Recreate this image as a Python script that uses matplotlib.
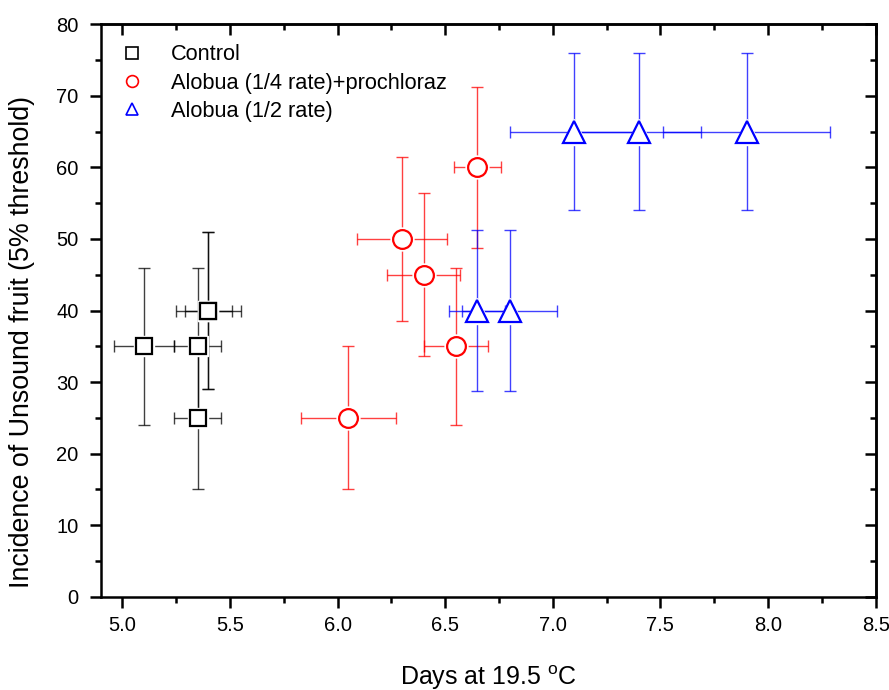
import matplotlib
matplotlib.use('Agg')
import matplotlib.pyplot as plt
from matplotlib.lines import Line2D
from matplotlib.ticker import MultipleLocator, FormatStrFormatter

plt.rcParams['font.family'] = ['Liberation Sans', 'DejaVu Sans']
plt.rcParams['mathtext.fontset'] = 'custom'
plt.rcParams['mathtext.rm'] = 'Liberation Sans'
plt.rcParams['mathtext.it'] = 'Liberation Sans'

# data
control_x = [5.1, 5.35, 5.35, 5.4, 5.4]
control_y = [35, 35, 25, 40, 40]
control_xerr = [0.14, 0.11, 0.11, 0.15, 0.11]
control_yerr = [11, 11, 10, 11, 11]

mix_x = [6.05, 6.3, 6.4, 6.55, 6.65]
mix_y = [25, 50, 45, 35, 60]
mix_xerr = [0.22, 0.21, 0.17, 0.15, 0.11]
mix_yerr = [10, 11.5, 11.4, 11, 11.2]

half_x = [6.65, 6.8, 7.1, 7.4, 7.9]
half_y = [40, 40, 65, 65, 65]
half_xerr = [0.13, 0.22, 0.30, 0.29, 0.39]
half_yerr = [11.2, 11.2, 11, 11, 11]

labels = ['Control', 'Alobua (1/4 rate)+prochloraz', 'Alobua (1/2 rate)']

series = [
    (control_x, control_y, control_xerr, control_yerr, 's', 11.5, 'black'),
    (mix_x, mix_y, mix_xerr, mix_yerr, 'o', 13.5, 'red'),
    (half_x, half_y, half_xerr, half_yerr, '^', 16, 'blue'),
]

fig = plt.figure(figsize=(8.89, 6.9), dpi=100)
ax = fig.add_axes([0.1133, 0.1352, 0.8717, 0.8296])

for x, y, xe, ye, m, ms, c in series:
    ax.errorbar(x, y, xerr=xe, yerr=ye, fmt='none', ecolor=c, elinewidth=1.0,
                capsize=4.5, capthick=1.0, alpha=0.75, zorder=2)
for x, y, xe, ye, m, ms, c in series:
    # white halo so the bars stop short of the marker
    ax.plot(x, y, linestyle='none', marker=m, markersize=ms + 3,
            markerfacecolor='white', markeredgecolor='white', zorder=3)
    ax.plot(x, y, linestyle='none', marker=m, markersize=ms,
            markerfacecolor='white', markeredgecolor=c, markeredgewidth=1.6, zorder=4)

ax.set_xlim(4.9, 8.5)
ax.set_ylim(0, 80)
ax.xaxis.set_major_locator(MultipleLocator(0.5))
ax.xaxis.set_minor_locator(MultipleLocator(0.25))
ax.yaxis.set_major_locator(MultipleLocator(10))
ax.yaxis.set_minor_locator(MultipleLocator(5))
ax.xaxis.set_major_formatter(FormatStrFormatter('%.1f'))

for side in ['left', 'bottom', 'top', 'right']:
    ax.spines[side].set_linewidth(1.8)

ax.tick_params(which='major', direction='out', length=8, width=1.8,
               labelsize=14.5, pad=6)
ax.tick_params(axis='y', which='major', pad=8)
ax.tick_params(which='minor', direction='out', length=4, width=1.8)

# inward ticks on top and right, no labels
top = ax.secondary_xaxis('top')
right = ax.secondary_yaxis('right')
top.xaxis.set_major_locator(MultipleLocator(0.5))
top.xaxis.set_minor_locator(MultipleLocator(0.25))
right.yaxis.set_major_locator(MultipleLocator(10))
right.yaxis.set_minor_locator(MultipleLocator(5))
for sec in (top, right):
    sec.tick_params(which='major', direction='in', length=8, width=1.8,
                    labeltop=False, labelright=False)
    sec.tick_params(which='minor', direction='in', length=4, width=1.8)
    for sp in sec.spines.values():
        sp.set_linewidth(1.8)

ax.set_xlabel('Days at 19.5 $^{\\mathrm{o}}$C', fontsize=18, labelpad=20)
ax.set_ylabel('Incidence of Unsound fruit (5% threshold)', fontsize=19.3)
ax.yaxis.set_label_coords(-0.085, 0.445)

handles = [Line2D([], [], linestyle='none', marker=m, markersize=8.5,
                  markerfacecolor='white', markeredgecolor=c, markeredgewidth=1.2)
           for x, y, xe, ye, m, ms, c in series]
ax.legend(handles, labels, loc='upper left', frameon=False, fontsize=15.7,
          handletextpad=0.8, labelspacing=0.33, borderaxespad=0.6,
          bbox_to_anchor=(-0.016, 1.003))

fig.savefig('out.png', dpi=100)
